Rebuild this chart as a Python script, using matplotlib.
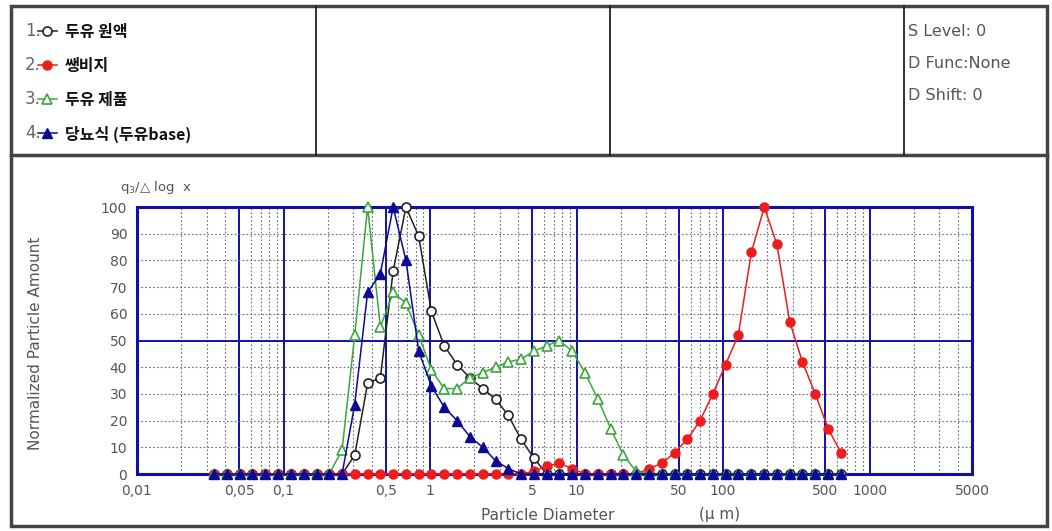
import numpy as np
import matplotlib
matplotlib.use("Agg")
import matplotlib.pyplot as plt
from matplotlib.lines import Line2D
from matplotlib.patches import Rectangle

# channel diameters (um)
diam = [0.0336, 0.0411, 0.0502, 0.0614, 0.0750, 0.0917, 0.112, 0.137, 0.168, 0.205,
        0.251, 0.306, 0.375, 0.458, 0.560, 0.685, 0.837, 1.02, 1.25, 1.53,
        1.87, 2.29, 2.80, 3.42, 4.18, 5.11, 6.25, 7.64, 9.34, 11.4,
        14.0, 17.1, 20.9, 25.5, 31.2, 38.2, 46.7, 57.0, 69.7, 85.2,
        104, 127, 156, 191, 233, 285, 348, 426, 521, 637]

soy_raw = [0, 0, 0, 0, 0, 0, 0, 0, 0, 0,
           0, 7, 34, 36, 76, 100, 89, 61, 48, 41,
           36, 32, 28, 22, 13, 6, 0, 0, 0, 0,
           0, 0, 0, 0, 0, 0, 0, 0, 0, 0,
           0, 0, 0, 0, 0, 0, 0, 0, 0, 0]
okara = [0, 0, 0, 0, 0, 0, 0, 0, 0, 0,
         0, 0, 0, 0, 0, 0, 0, 0, 0, 0,
         0, 0, 0, 0, 0, 1, 3, 4, 2, 0,
         0, 0, 0, 0, 2, 4, 8, 13, 20, 30,
         41, 52, 83, 100, 86, 57, 42, 30, 17, 8]
soy_prod = [0, 0, 0, 0, 0, 0, 0, 0, 0, 0,
            9, 52, 100, 55, 68, 64, 52, 39, 32, 32,
            36, 38, 40, 42, 43, 46, 48, 50, 46, 38,
            28, 17, 7, 1, 0, 0, 0, 0, 0, 0,
            0, 0, 0, 0, 0, 0, 0, 0, 0, 0]
diabetic = [0, 0, 0, 0, 0, 0, 0, 0, 0, 0,
            0, 26, 68, 75, 100, 80, 46, 33, 25, 20,
            14, 10, 5, 2, 0, 0, 0, 0, 0, 0,
            0, 0, 0, 0, 0, 0, 0, 0, 0, 0,
            0, 0, 0, 0, 0, 0, 0, 0, 0, 0]

names = ['두유 원액', '쌩비지', '두유 제품', '당뇨식 (두유base)']
xticks = [0.01, 0.05, 0.1, 0.5, 1, 5, 10, 50, 100, 500, 1000, 5000]
xticklabels = ['0,01', '0,05', '0,1', '0,5', '1', '5', '10', '50', '100', '500', '1000', '5000']
yticks = [0, 10, 20, 30, 40, 50, 60, 70, 80, 90, 100]
side_info = ['S Level: 0', 'D Func:None', 'D Shift: 0']

BLUE = '#1010a8'
RED = '#ee1c1c'
GREEN = '#3aa83a'
NAVY = '#0a0a96'
GRAY = '#555555'
GRID = '#6a6a88'

W, H = 1052, 531
def fx(px):
    return px / W
def fy(py):
    return 1 - py / H

fig = plt.figure(figsize=(W / 100, H / 100), dpi=100)
fig.patch.set_facecolor('white')

# page frame
fig.add_artist(Rectangle((fx(11), fy(526)), fx(1047) - fx(11), fy(6) - fy(526),
                         transform=fig.transFigure, fill=False, ec='#444444', lw=2.5))
fig.add_artist(Line2D([fx(11), fx(1047)], [fy(155), fy(155)], transform=fig.transFigure,
                      color='#444444', lw=2.5))
for xd in [316, 610, 904]:
    fig.add_artist(Line2D([fx(xd), fx(xd)], [fy(155), fy(6)], transform=fig.transFigure,
                          color='#222222', lw=1.3))

ax = fig.add_axes([fx(137), fy(474), fx(972) - fx(137), fy(207) - fy(474)])
ax.set_xscale('log')
ax.set_xlim(0.01, 5000)
ax.set_ylim(0, 100)

# grid
dec = [0.01, 0.1, 1, 10, 100, 1000]
for d in dec:
    for m in [2, 3, 4, 6, 7, 8, 9]:
        if d * m < 5000:
            ax.axvline(d * m, color=GRID, lw=0.8, ls=(0, (1.5, 2)), zorder=1)
    for m in [1, 5]:
        if 0.01 < d * m < 5000:
            ax.axvline(d * m, color=BLUE, lw=1.4, zorder=1)
for yv in yticks[1:-1]:
    if yv == 50:
        ax.axhline(yv, color=BLUE, lw=1.4, zorder=1)
    else:
        ax.axhline(yv, color=GRID, lw=0.8, ls=(0, (1.5, 2)), zorder=1)

for s in ax.spines.values():
    s.set_color(BLUE)
    s.set_linewidth(2.2)

styles = [
    dict(color='#222222', marker='o', mfc='white', mec='#222222', ms=6.5, mew=1.2),
    dict(color=RED, marker='o', mfc=RED, mec=RED, ms=6.5),
    dict(color=GREEN, marker='^', mfc='white', mec=GREEN, ms=7.5, mew=1.2),
    dict(color=NAVY, marker='^', mfc=NAVY, mec=NAVY, ms=7.5),
]
for ys, st in zip([soy_raw, okara, soy_prod, diabetic], styles):
    ax.plot(diam, ys, lw=1.1, clip_on=False, zorder=3, **st)

ax.set_xticks(xticks)
ax.set_xticklabels(xticklabels)
ax.xaxis.set_minor_locator(matplotlib.ticker.NullLocator())
ax.set_yticks(yticks)
ax.tick_params(length=0, labelsize=10, labelcolor=GRAY, pad=7)

fig.text(fx(120), fy(188), 'q$_3$/△ log  x', fontsize=9.5, color=GRAY, va='center')
fig.text(fx(36), fy(343), 'Normalized Particle Amount', rotation=90, fontsize=11,
         color=GRAY, ha='center', va='center')
fig.text(fx(548), fy(515), 'Particle Diameter', fontsize=11, color=GRAY,
         ha='center', va='center')
fig.text(fx(720), fy(515), '(μ m)', fontsize=11, color=GRAY, ha='center', va='center')

# legend cell
rows = [31, 65, 99, 133]
for k, (nm, st, ry) in enumerate(zip(names, styles, rows)):
    fig.text(fx(25), fy(ry), f'{k + 1}.', fontsize=12, color='#666666', va='center')
    fig.add_artist(Line2D([fx(38), fx(47), fx(57)], [fy(ry)] * 3, transform=fig.transFigure,
                          lw=1.1, markevery=[1], **st))
    fig.text(fx(65), fy(ry + 1), nm, fontsize=11.5, fontweight='bold', color='#111111',
             va='center', family=['Noto Sans CJK KR', 'DejaVu Sans'])

for t, ry in zip(side_info, [32, 64, 96]):
    fig.text(fx(908), fy(ry), t, fontsize=11.5, color=GRAY, va='center')

fig.savefig('out.png', dpi=100, facecolor='white')
